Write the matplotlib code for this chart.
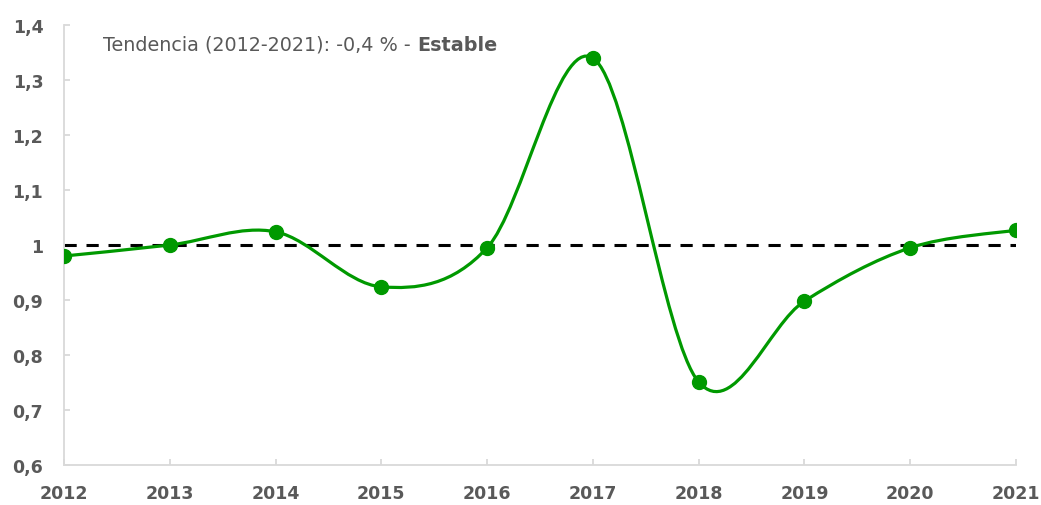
"""
Índice anual 2012-2021 con línea suavizada y referencia en 1.
"""

import numpy as np
import matplotlib.pyplot as plt
from matplotlib.path import Path
from matplotlib.patches import PathPatch
from matplotlib.ticker import FuncFormatter

anios = [2012, 2013, 2014, 2015, 2016, 2017, 2018, 2019, 2020, 2021]
valores = [0.980, 1.000, 1.024, 0.924, 0.995, 1.340, 0.751, 0.898, 0.995, 1.027]
referencia = 1.0
texto_tendencia = 'Tendencia (2012-2021): -0,4 % - '
texto_estado = 'Estable'

VERDE = '#009900'
GRIS_TEXTO = '#595959'
GRIS_EJE = '#d9d9d9'


def trazo_suave(x, y):
    """Curva Bezier tipo Catmull-Rom entre los puntos (como el suavizado de Excel)."""
    pts = np.column_stack([x, y]).astype(float)
    n = len(pts)
    verts = [pts[0]]
    codes = [Path.MOVETO]
    for i in range(n - 1):
        p0 = pts[i - 1] if i > 0 else pts[i]
        p1 = pts[i]
        p2 = pts[i + 1]
        p3 = pts[i + 2] if i + 2 < n else pts[i + 1]
        c1 = p1 + (p2 - p0) / 6
        c2 = p2 - (p3 - p1) / 6
        verts += [c1, c2, p2]
        codes += [Path.CURVE4] * 3
    return Path(verts, codes)


plt.rcParams['font.family'] = ['DejaVu Sans']

fig = plt.figure(figsize=(10.41, 5.06), dpi=100)
ax = fig.add_axes([0.0615, 0.079, 0.9145, 0.8696])

ax.axhline(referencia, color='black', lw=2.2, ls=(0, (4, 3.2)), zorder=2)
ax.add_patch(PathPatch(trazo_suave(anios, valores), fill=False,
                       edgecolor=VERDE, lw=2.3, zorder=3))
ax.plot(anios, valores, ls='none', marker='o', ms=10, color=VERDE, zorder=4)

ax.set_xlim(anios[0], anios[-1])
ax.set_ylim(0.6, 1.4)
ax.set_xticks(anios)
ax.set_yticks(np.arange(0.6, 1.41, 0.1))
ax.yaxis.set_major_formatter(
    FuncFormatter(lambda v, p: f'{round(v, 1):g}'.replace('.', ',')))

for lado in ['top', 'right']:
    ax.spines[lado].set_visible(False)
for lado in ['left', 'bottom']:
    ax.spines[lado].set_color(GRIS_EJE)
    ax.spines[lado].set_linewidth(1.3)

ax.tick_params(axis='both', direction='in', length=4, width=1.3,
               color=GRIS_EJE, labelcolor=GRIS_TEXTO, labelsize=12.5)
ax.tick_params(axis='y', pad=15)
ax.tick_params(axis='x', pad=14)
for etiqueta in ax.get_xticklabels() + ax.get_yticklabels():
    etiqueta.set_fontweight('bold')

t = ax.text(2012.37, 1.365, texto_tendencia, fontsize=13.8,
            color=GRIS_TEXTO, va='center', ha='left')
ax.annotate(texto_estado, xycoords=t, xy=(1, 0), va='bottom',
            fontsize=13.8, fontweight='bold', color=GRIS_TEXTO)

fig.savefig('out.png', dpi=100)
plt.close()
